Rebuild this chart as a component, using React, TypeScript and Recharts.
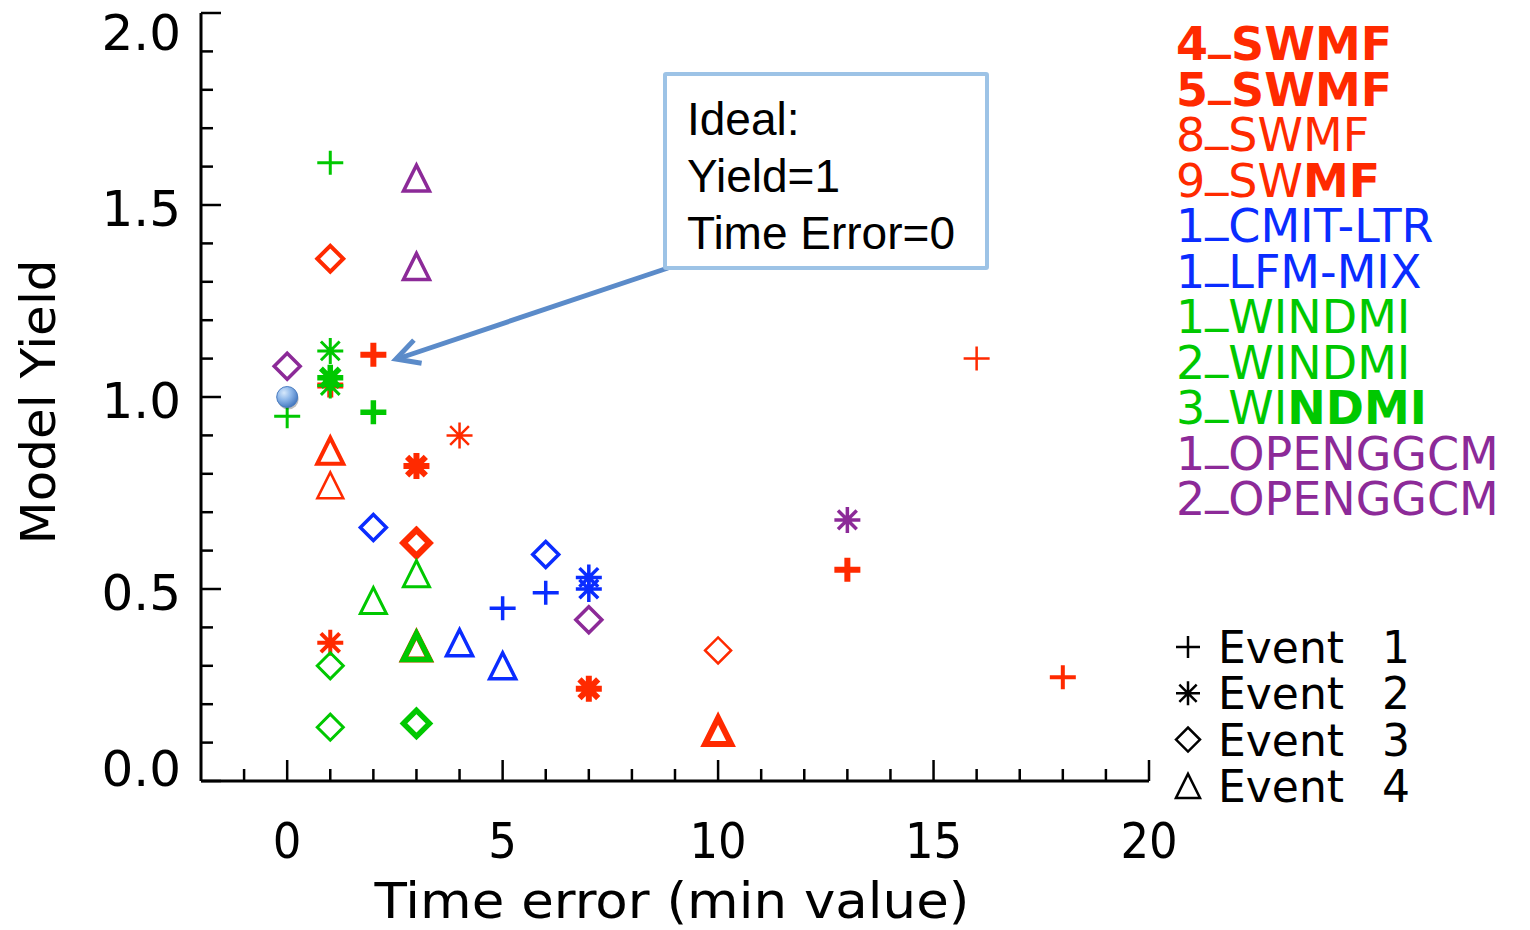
import React from 'react';
import { ScatterChart, Scatter, XAxis, YAxis } from 'recharts';

// x = time error (min value), y = model yield, ev = event number (1..4)
const swmf4 = [
  { x: 2, y: 1.11, ev: 1 },
  { x: 3, y: 0.82, ev: 2 },
  { x: 3, y: 0.62, ev: 3 },
  { x: 10, y: 0.13, ev: 4 },
];
const swmf5 = [
  { x: 13, y: 0.55, ev: 1 },
  { x: 1, y: 1.03, ev: 1 },
  { x: 7, y: 0.24, ev: 2 },
  { x: 3, y: 0.62, ev: 3 },
  { x: 3, y: 0.35, ev: 4 },
];
const swmf8 = [
  { x: 16, y: 1.1, ev: 1 },
  { x: 4, y: 0.9, ev: 2 },
  { x: 10, y: 0.34, ev: 3 },
  { x: 1, y: 0.77, ev: 4 },
];
const swmf9 = [
  { x: 18, y: 0.27, ev: 1 },
  { x: 1, y: 0.36, ev: 2 },
  { x: 1, y: 1.36, ev: 3 },
  { x: 1, y: 0.86, ev: 4 },
];
const cmitLtr = [
  { x: 5, y: 0.45, ev: 1 },
  { x: 7, y: 0.53, ev: 2 },
  { x: 2, y: 0.66, ev: 3 },
  { x: 4, y: 0.36, ev: 4 },
];
const lfmMix = [
  { x: 6, y: 0.49, ev: 1 },
  { x: 7, y: 0.5, ev: 2 },
  { x: 6, y: 0.59, ev: 3 },
  { x: 5, y: 0.3, ev: 4 },
];
const windmi1 = [
  { x: 1, y: 1.61, ev: 1 },
  { x: 1, y: 1.12, ev: 2 },
  { x: 1, y: 0.3, ev: 3 },
  { x: 2, y: 0.47, ev: 4 },
];
const windmi2 = [
  { x: 0, y: 0.95, ev: 1 },
  { x: 1, y: 1.03, ev: 2 },
  { x: 1, y: 0.14, ev: 3 },
  { x: 3, y: 0.54, ev: 4 },
];
const windmi3 = [
  { x: 2, y: 0.96, ev: 1 },
  { x: 1, y: 1.05, ev: 2 },
  { x: 3, y: 0.15, ev: 3 },
  { x: 3, y: 0.35, ev: 4 },
];
const openggcm1 = [
  { x: 13, y: 0.68, ev: 2 },
  { x: 0, y: 1.08, ev: 3 },
  { x: 3, y: 1.57, ev: 4 },
];
const openggcm2 = [
  { x: 7, y: 0.42, ev: 3 },
  { x: 3, y: 1.34, ev: 4 },
];
const ideal = [{ x: 0, y: 1 }];

const modelNames = ['4_SWMF', '5_SWMF', '8_SWMF', '9_SWMF', '1_CMIT-LTR', '1_LFM-MIX', '1_WINDMI', '2_WINDMI', '3_WINDMI', '1_OPENGGCM', '2_OPENGGCM'];
const eventNames = ['Event 1', 'Event 2', 'Event 3', 'Event 4'];
const xTicks = [-1, 0, 1, 2, 3, 4, 5, 6, 7, 8, 9, 10, 11, 12, 13, 14, 15, 16, 17, 18, 19, 20];
const yTicks = [0, 0.1, 0.2, 0.3, 0.4, 0.5, 0.6, 0.7, 0.8, 0.9, 1, 1.1, 1.2, 1.3, 1.4, 1.5, 1.6, 1.7, 1.8, 1.9, 2];
const idealText = ['Ideal:', 'Yield=1', 'Time Error=0'];

const RED = '#ff2a00';
const BLUE = '#0a2cff';
const GREEN = '#00c800';
const PURPLE = '#8c2a98';

// style per model: colour, stroke weight of its symbols, and where its legend label turns bold
const series = [
  { data: swmf4, color: RED, w: 6, boldFrom: 0 },
  { data: swmf5, color: RED, w: 6, boldFrom: 0 },
  { data: swmf8, color: RED, w: 2.5, boldFrom: -1 },
  { data: swmf9, color: RED, w: 4, boldFrom: 4 },
  { data: cmitLtr, color: BLUE, w: 3.5, boldFrom: -1 },
  { data: lfmMix, color: BLUE, w: 3.5, boldFrom: -1 },
  { data: windmi1, color: GREEN, w: 3, boldFrom: -1 },
  { data: windmi2, color: GREEN, w: 3, boldFrom: -1 },
  { data: windmi3, color: GREEN, w: 5.5, boldFrom: 4 },
  { data: openggcm1, color: PURPLE, w: 3.5, boldFrom: -1 },
  { data: openggcm2, color: PURPLE, w: 3.5, boldFrom: -1 },
];

const FONT = "'DejaVu Sans', sans-serif";

function Marker({ cx, cy, ev, color, w, s = 13 }: any) {
  const common = { stroke: color, strokeWidth: w, fill: 'none' };
  if (ev === 1) {
    return <path d={`M${cx - s},${cy}H${cx + s}M${cx},${cy - s + 1}V${cy + s - 1}`} {...common} />;
  }
  if (ev === 2) {
    const d = s * 0.72;
    return (
      <path
        d={`M${cx - s},${cy}H${cx + s}M${cx},${cy - s}V${cy + s}M${cx - d},${cy - d}L${cx + d},${cy + d}M${cx - d},${cy + d}L${cx + d},${cy - d}`}
        {...common}
      />
    );
  }
  if (ev === 3) {
    return <path d={`M${cx - s},${cy}L${cx},${cy - s}L${cx + s},${cy}L${cx},${cy + s}Z`} {...common} strokeLinejoin="miter" />;
  }
  return <path d={`M${cx - s},${cy + s}L${cx},${cy - s}L${cx + s},${cy + s}Z`} {...common} strokeLinejoin="miter" />;
}

function Sphere({ cx, cy }: any) {
  return (
    <g>
      <defs>
        <radialGradient id="ballGrad" cx="35%" cy="30%" r="75%">
          <stop offset="0%" stopColor="#d6e8fb" />
          <stop offset="45%" stopColor="#8fb8ea" />
          <stop offset="100%" stopColor="#3f74bd" />
        </radialGradient>
      </defs>
      <circle cx={cx + 1} cy={cy + 2} r={10.5} fill="rgba(0,0,0,0.25)" />
      <circle cx={cx} cy={cy} r={10.5} fill="url(#ballGrad)" stroke="#4a7cc0" strokeWidth={1} />
    </g>
  );
}

function BottomTick({ x, y, payload }: any) {
  const v = payload.value;
  const major = v % 5 === 0;
  return (
    <g>
      <line x1={x} y1={y} x2={x} y2={y - (major ? 21 : 12)} stroke="#000" strokeWidth={2.5} />
      {major && (
        <text x={x} y={858} textAnchor="middle" fontFamily={FONT} fontSize={50} fontStretch="condensed" fill="#000">
          {v}
        </text>
      )}
    </g>
  );
}

function TopTick({ x, y, payload }: any) {
  const major = payload.value % 5 === 0;
  return <line x1={x} y1={y} x2={x} y2={y + (major ? 21 : 12)} stroke="#000" strokeWidth={2.5} />;
}

function LeftTick({ x, y, payload }: any) {
  const v = payload.value;
  const major = Math.abs(v * 2 - Math.round(v * 2)) < 1e-6;
  let ty = y + 21;
  if (v === 0) ty = y + 5;
  if (v === 2) ty = y + 37;
  return (
    <g>
      <line x1={x} y1={y} x2={x + (major ? 20 : 12)} y2={y} stroke="#000" strokeWidth={2.5} />
      {major && (
        <text x={181} y={ty} textAnchor="end" fontFamily={FONT} fontSize={50} fill="#000">
          {v.toFixed(1)}
        </text>
      )}
    </g>
  );
}

function RightTick({ x, y, payload }: any) {
  const v = payload.value;
  const major = Math.abs(v * 2 - Math.round(v * 2)) < 1e-6;
  return <line x1={x} y1={y} x2={x - (major ? 20 : 12)} y2={y} stroke="#000" strokeWidth={2.5} />;
}

function ModelLabel({ name, i }: any) {
  const s = series[i];
  const y = 60 + i * 45.5;
  const [pre, rest] = name.split('_');
  const cut = s.boldFrom > 0 ? s.boldFrom - pre.length - 1 : s.boldFrom === 0 ? 0 : rest.length;
  const parts = [
    { t: rest.slice(0, cut), bold: false },
    { t: rest.slice(cut), bold: true },
  ].filter((p) => p.t.length > 0);
  // the underscore is lifted to sit on the baseline, as in the IDL font
  return (
    <text x={1176} y={y} fontFamily={FONT} fontSize={46} fill={s.color} fontWeight={s.boldFrom === 0 ? 'bold' : 'normal'}>
      <tspan>{pre}</tspan>
      <tspan dy={-12}>_</tspan>
      {parts.map((p, k) => (
        <tspan key={k} dy={k === 0 ? 12 : 0} fontWeight={p.bold ? 'bold' : undefined}>
          {p.t}
        </tspan>
      ))}
    </text>
  );
}

export default function App() {
  const axisLine = { stroke: '#000', strokeWidth: 3 };
  return (
    <div style={{ position: 'absolute', left: 0, top: 0, width: 1530, height: 930, background: '#fff' }}>
      <ScatterChart width={1530} height={930} margin={{ top: 13, right: 381, bottom: 49, left: 0 }}>
        <XAxis
          type="number"
          dataKey="x"
          domain={[-2, 20]}
          ticks={xTicks}
          interval={0}
          allowDataOverflow
          height={100}
          axisLine={axisLine}
          tickLine={false}
          tickSize={0}
          tickMargin={0}
          tick={<BottomTick />}
        />
        <XAxis
          xAxisId="top"
          orientation="top"
          type="number"
          dataKey="x"
          domain={[-2, 20]}
          ticks={xTicks}
          interval={0}
          allowDataOverflow
          height={0}
          axisLine={axisLine}
          tickLine={false}
          tickSize={0}
          tickMargin={0}
          tick={<TopTick />}
        />
        <YAxis
          type="number"
          dataKey="y"
          domain={[0, 2]}
          ticks={yTicks}
          interval={0}
          allowDataOverflow
          width={201}
          axisLine={axisLine}
          tickLine={false}
          tickSize={0}
          tickMargin={0}
          tick={<LeftTick />}
        />
        <YAxis
          yAxisId="right"
          orientation="right"
          type="number"
          dataKey="y"
          domain={[0, 2]}
          ticks={yTicks}
          interval={0}
          allowDataOverflow
          width={0}
          axisLine={axisLine}
          tickLine={false}
          tickSize={0}
          tickMargin={0}
          tick={<RightTick />}
        />
        {series.map((s, i) => (
          <Scatter
            key={modelNames[i]}
            name={modelNames[i]}
            data={s.data}
            isAnimationActive={false}
            shape={(p: any) => <Marker cx={p.cx} cy={p.cy} ev={p.payload.ev} color={s.color} w={s.w} />}
          />
        ))}
        <Scatter name="Ideal" data={ideal} isAnimationActive={false} shape={(p: any) => <Sphere cx={p.cx} cy={p.cy} />} />
      </ScatterChart>

      <svg width={1530} height={930} style={{ position: 'absolute', left: 0, top: 0, pointerEvents: 'none' }}>
        {/* axis titles */}
        <text
          x={672}
          y={918}
          textAnchor="middle"
          fontFamily={FONT}
          fontSize={50}
          textLength={595}
          lengthAdjust="spacingAndGlyphs"
          fill="#000"
        >
          Time error (min value)
        </text>
        <text
          transform="translate(55,402) rotate(-90)"
          textAnchor="middle"
          fontFamily={FONT}
          fontSize={48}
          textLength={285}
          lengthAdjust="spacingAndGlyphs"
          fill="#000"
        >
          Model Yield
        </text>

        {/* model legend */}
        {modelNames.map((n, i) => (
          <ModelLabel key={n} name={n} i={i} />
        ))}

        {/* event legend */}
        {eventNames.map((n, i) => {
          const base = 663 + i * 46.3;
          const [word, num] = n.split(' ');
          return (
            <g key={n}>
              <Marker cx={1188} cy={base - 16} ev={i + 1} color="#000" w={2.5} s={12} />
              <text x={1218} y={base} fontFamily={FONT} fontSize={44} fill="#000">
                {word}
              </text>
              <text x={1396} y={base} textAnchor="middle" fontFamily={FONT} fontSize={44} fill="#000">
                {num}
              </text>
            </g>
          );
        })}

        {/* annotation arrow */}
        <line x1={668} y1={268} x2={400} y2={358} stroke="#5b8bc9" strokeWidth={5} />
        <polyline
          points="421.6,363.3 396,359 413.9,340.1"
          fill="none"
          stroke="#5b8bc9"
          strokeWidth={5}
          strokeLinejoin="miter"
        />
      </svg>

      <div
        style={{
          position: 'absolute',
          left: 663,
          top: 72,
          width: 326,
          height: 198,
          border: '4px solid #9dc3e6',
          borderRadius: 3,
          background: '#fff',
          fontFamily: "'Liberation Sans', Arial, sans-serif",
          fontSize: 46,
          lineHeight: '57px',
          color: '#000',
          paddingLeft: 20,
          paddingTop: 15,
          boxSizing: 'border-box',
        }}
      >
        {idealText.map((t) => (
          <div key={t}>{t}</div>
        ))}
      </div>
    </div>
  );
}
